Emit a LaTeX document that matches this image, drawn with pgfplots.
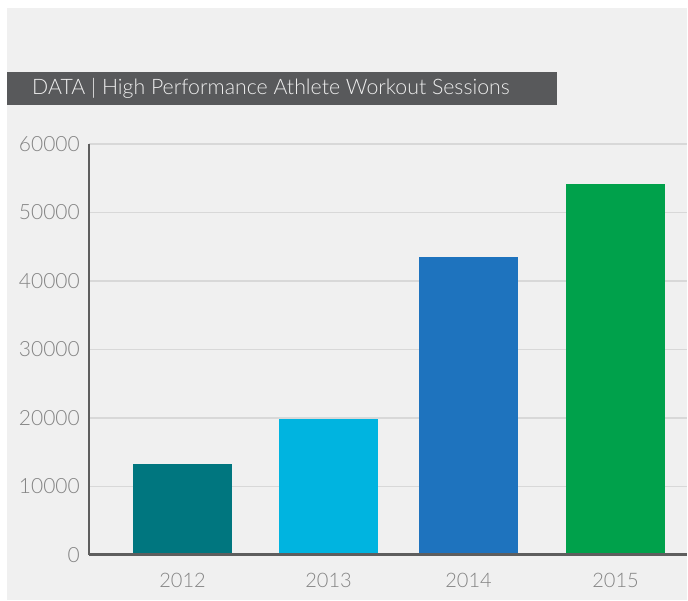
\documentclass[border=0pt]{standalone}
\usepackage{pgfplots}
\pgfplotsset{compat=1.18}
\usepackage{fontspec}
\setmainfont{Lato}[UprightFont={* Light}]
\definecolor{bg}{HTML}{F0F0F0}
\definecolor{titlebar}{HTML}{58595B}
\definecolor{titletext}{HTML}{EEEEEE}
\definecolor{ticktext}{HTML}{848484}
\definecolor{gridc}{HTML}{D8D8D8}
\definecolor{axisc}{HTML}{5E5E5E}
\definecolor{cA}{HTML}{00767F}
\definecolor{cB}{HTML}{00B4E0}
\definecolor{cC}{HTML}{1E73BE}
\definecolor{cD}{HTML}{00A14B}
\begin{document}
\begin{tikzpicture}[x=1pt,y=1pt]
\useasboundingbox (0,0) rectangle (688,601);
\fill[white] (0,0) rectangle (688,601);
\fill[bg] (7,1) rectangle (687,593);
\fill[titlebar] (7,496) rectangle (557,529);
\node[anchor=west, text=titletext, inner sep=0pt, font=\fontsize{21.3}{25}\selectfont] at (32,512.5) {DATA | High Performance Athlete Workout Sessions};
\begin{axis}[
  at={(89pt,46pt)}, anchor=south west,
  scale only axis, width=598pt, height=411pt,
  xmin=89, xmax=687, ymin=0, ymax=60000,
  xtick={182.5,328.5,468.5,615.5}, xticklabels={2012,2013,2014,2015},
  ytick={0,10000,20000,30000,40000,50000,60000},
  scaled y ticks=false,
  yticklabel={\pgfmathprintnumber[fixed,precision=0,1000 sep={}]{\tick}},
  major tick length=0pt,
  ymajorgrids, grid style={color=gridc, line width=1.6pt},
  axis line style={draw=none},
  /pgf/number format/assume math mode=true,
  yticklabel style={anchor=east, inner sep=0pt, xshift=-9pt, text=ticktext, font=\fontsize{21}{25}\selectfont},
  xticklabel style={anchor=center, inner sep=0pt, yshift=-25pt, text=ticktext, font=\fontsize{20}{24}\selectfont},
  clip=false,
]
\addplot[ybar, bar width=99pt, bar shift=0pt, fill=cA, draw=none] coordinates {(182.5,13300)};
\addplot[ybar, bar width=99pt, bar shift=0pt, fill=cB, draw=none] coordinates {(328.5,19900)};
\addplot[ybar, bar width=99pt, bar shift=0pt, fill=cC, draw=none] coordinates {(468.5,43500)};
\addplot[ybar, bar width=99pt, bar shift=0pt, fill=cD, draw=none] coordinates {(615.5,54200)};
\draw[axisc, line width=2.5pt] (rel axis cs:0,0) -- (rel axis cs:0,1);
\draw[axisc, line width=3pt] (rel axis cs:0,0) -- (rel axis cs:1,0);
\end{axis}
\end{tikzpicture}
\end{document}
